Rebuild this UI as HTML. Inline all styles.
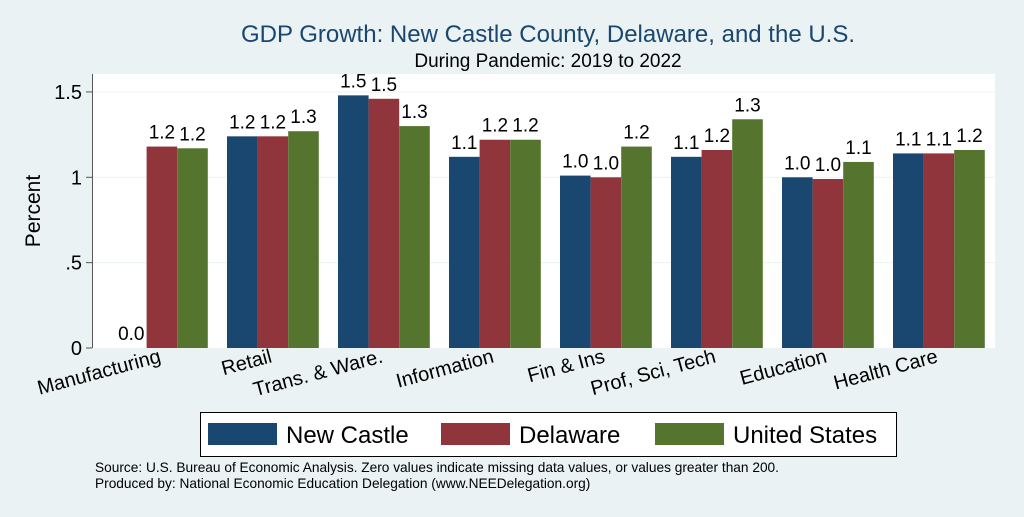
<!DOCTYPE html>
<html><head><meta charset="utf-8"><style>
body{margin:0;width:1024px;height:512px;background:#eaf2f3;font-family:"Liberation Sans",sans-serif;overflow:hidden}
</style></head><body>
<svg id="c" width="1024" height="512" xmlns="http://www.w3.org/2000/svg">
<rect x="92" y="74" width="903" height="274" fill="#fff"/>
<text x="548" y="42" font-size="24" fill="#1a476f" text-anchor="middle">GDP Growth: New Castle County, Delaware, and the U.S.</text>
<text x="548" y="67" font-size="19" fill="#000" text-anchor="middle">During Pandemic: 2019 to 2022</text>
<text transform="translate(40,211) rotate(-90)" font-size="21" text-anchor="middle">Percent</text>
<g id="grid"></g><g id="bars"></g><g id="labels"></g>
<line x1="92.5" y1="74" x2="92.5" y2="348" stroke="#555"/>
<g>
<rect x="200.5" y="412.5" width="696" height="44" fill="#fff" stroke="#000"/>
<rect x="208" y="423" width="69" height="22" fill="#1a476f"/>
<text x="286" y="443" font-size="24">New Castle</text>
<rect x="441" y="423" width="69" height="22" fill="#90353b"/>
<text x="519" y="443" font-size="24">Delaware</text>
<rect x="655" y="423" width="69" height="22" fill="#55752f"/>
<text x="733" y="443" font-size="24">United States</text>
</g>
<text x="95" y="472" font-size="13.7">Source: U.S. Bureau of Economic Analysis. Zero values indicate missing data values, or values greater than 200.</text>
<text x="95" y="488" font-size="13.7">Produced by: National Economic Education Delegation (www.NEEDelegation.org)</text>
</svg>
<script>
const categories=["Manufacturing","Retail","Trans. & Ware.","Information","Fin & Ins","Prof, Sci, Tech","Education","Health Care"];
const newCastle=[0,1.24,1.48,1.12,1.01,1.12,1.00,1.14];
const delaware=[1.18,1.24,1.46,1.22,1.00,1.16,0.99,1.14];
const unitedStates=[1.17,1.27,1.30,1.22,1.18,1.34,1.09,1.16];
const yTicks=[0,0.5,1,1.5];
const yTickLabels=["0",".5","1","1.5"];
const NS="http://www.w3.org/2000/svg";
const y=v=>348-v*170.7;
const gx=i=>116+i*111;
const bw=30.6;
function mk(t,a,p){const e=document.createElementNS(NS,t);for(const k in a)e.setAttribute(k,a[k]);p.appendChild(e);return e;}
const grid=document.getElementById('grid'),bars=document.getElementById('bars'),labels=document.getElementById('labels');
yTicks.forEach((t,i)=>{
 if(t>0){const g=mk('line',{x1:93,x2:995,y1:y(t),y2:y(t),stroke:'#eaf2f3'},grid);
 
 }
 const tk=mk('line',{x1:86,x2:92,y1:y(t),y2:y(t),stroke:'#555'},grid);
 
 
 const l=mk('text',{x:82,y:y(t)+7,'font-size':20,'text-anchor':'end'},labels);
 l.textContent=yTickLabels[i];
 
 
});
const series=[[newCastle,'#1a476f','new-castle'],[delaware,'#90353b','delaware'],[unitedStates,'#55752f','united-states']];
categories.forEach((c,i)=>{
 series.forEach(([arr,col,nm],s)=>{
  const v=arr[i],x=gx(i)+s*bw;
  const r=mk('rect',{x:x,y:y(v),width:bw,height:348-y(v),fill:col},bars);
  
  
  const t=mk('text',{x:x+bw/2,y:y(v)-8,'font-size':19,'text-anchor':'middle'},labels);
  t.textContent=v.toFixed(1);
  
  
 });
 const cx=gx(i)+bw*1.5;
 const t=mk('text',{x:cx,y:362,'font-size':20,'text-anchor':'end',transform:`rotate(-15 ${cx} 362)`},labels);
 t.textContent=c;
 
 
});
</script>
</body></html>
